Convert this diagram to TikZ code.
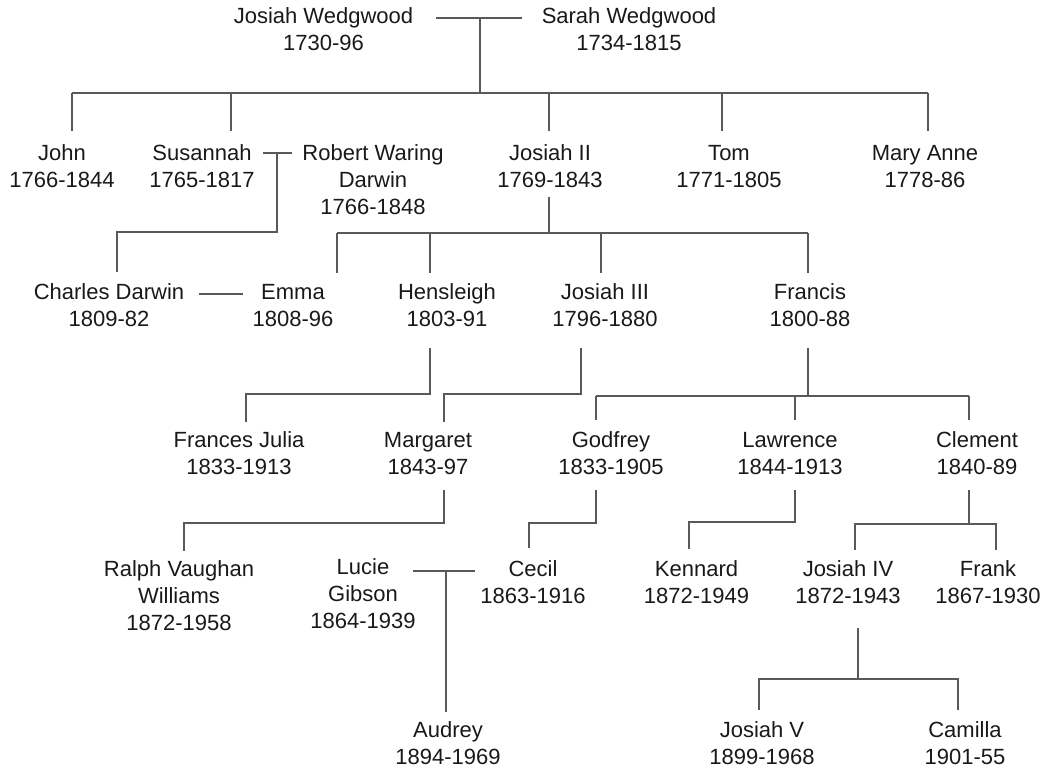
\documentclass[tikz,border=0pt]{standalone}
\usepackage{fontspec}
\setmainfont{Liberation Sans}
\begin{document}
\begin{tikzpicture}[x=1pt,y=-1pt,
  person/.style={inner sep=0pt, align=center, text=black!90, font=\fontsize{22}{27}\selectfont},
  ln/.style={draw=black!65, line width=1.3pt}]
\useasboundingbox (0,0) rectangle (1056,773);
% generation 0
\node[person] (jw) at (323.5,29.6) {Josiah Wedgwood\\1730-96};
\node[person] (sw) at (629,29.6) {Sarah Wedgwood\\1734-1815};
% generation 1
\node[person] (john) at (62,166.6) {John\\1766-1844};
\node[person] (sus) at (202,166.6) {Susannah\\1765-1817};
\node[person] (rwd) at (373,180.1) {Robert Waring\\Darwin\\1766-1848};
\node[person] (j2) at (550,166.6) {Josiah II\\1769-1843};
\node[person] (tom) at (729,166.6) {Tom\\1771-1805};
\node[person] (mary) at (925,166.6) {Mary Anne\\1778-86};
% generation 2
\node[person] (cd) at (109,305.6) {Charles Darwin\\1809-82};
\node[person] (emma) at (293,305.6) {Emma\\1808-96};
\node[person] (hens) at (447,305.6) {Hensleigh\\1803-91};
\node[person] (j3) at (605,305.6) {Josiah III\\1796-1880};
\node[person] (fran) at (810,305.6) {Francis\\1800-88};
% generation 3
\node[person] (fj) at (239,453.6) {Frances Julia\\1833-1913};
\node[person] (marg) at (428,453.6) {Margaret\\1843-97};
\node[person] (godf) at (611,453.6) {Godfrey\\1833-1905};
\node[person] (law) at (790,453.6) {Lawrence\\1844-1913};
\node[person] (clem) at (977,453.6) {Clement\\1840-89};
% generation 4
\node[person] (rvw) at (179,596.1) {Ralph Vaughan\\Williams\\1872-1958};
\node[person] (lucie) at (363,594.1) {Lucie\\Gibson\\1864-1939};
\node[person] (cecil) at (533,582.6) {Cecil\\1863-1916};
\node[person] (kenn) at (696.5,582.6) {Kennard\\1872-1949};
\node[person] (j4) at (848,582.6) {Josiah IV\\1872-1943};
\node[person] (frank) at (988,582.6) {Frank\\1867-1930};
% generation 5
\node[person] (aud) at (448,743.6) {Audrey\\1894-1969};
\node[person] (j5) at (762,743.6) {Josiah V\\1899-1968};
\node[person] (cam) at (965,743.6) {Camilla\\1901-55};

% ---- connectors ----
% Josiah Wedgwood + Sarah
\coordinate (m1a) at (436,18); \coordinate (m1b) at (522,18);
\coordinate (m1) at (480,18); \coordinate (b1) at (480,93);
\draw[ln] (m1a) -- (m1b);
\draw[ln] (m1) -- (b1);
\coordinate (b1l) at (72,93); \coordinate (b1r) at (928,93);
\draw[ln] (b1l) -- (b1r);
\foreach \x/\n in {72/john,231/sus,549/j2,722/tom,928/mary}
  \draw[ln] (\x,93) -- (\x,131);
% Susannah + Robert
\coordinate (m2a) at (263,153); \coordinate (m2b) at (292,153);
\draw[ln] (m2a) -- (m2b);
\coordinate (m2) at (277,153); \coordinate (m2c) at (277,232);
\coordinate (cdtop) at (117,272);
\draw[ln] (m2) -- (m2c) -- (117,232) -- (cdtop);
% Josiah II children
\coordinate (j2d) at (549,197); \coordinate (b2) at (549,233);
\draw[ln] (j2d) -- (b2);
\draw[ln] (337,233) -- (808,233);
\foreach \x in {337,430,601,808}
  \draw[ln] (\x,233) -- (\x,273);
% Charles Darwin + Emma
\coordinate (m3a) at (199,294); \coordinate (m3b) at (243,294);
\draw[ln] (m3a) -- (m3b);
% Hensleigh -> Frances Julia
\coordinate (hd) at (430,348); \coordinate (fjt) at (246,422);
\draw[ln] (hd) -- (430,394) -- (246,394) -- (fjt);
% Josiah III -> Margaret
\coordinate (j3d) at (581,348); \coordinate (mgt) at (444,422);
\draw[ln] (j3d) -- (581,394) -- (444,394) -- (mgt);
% Francis children
\coordinate (fd) at (808,348); \coordinate (b3) at (808,396);
\draw[ln] (fd) -- (b3);
\draw[ln] (596,396) -- (969,396);
\foreach \x in {596,795,969}
  \draw[ln] (\x,396) -- (\x,420);
% Margaret -> Ralph Vaughan Williams
\coordinate (mgd) at (444,490); \coordinate (rvwt) at (184,551);
\draw[ln] (mgd) -- (444,523) -- (184,523) -- (rvwt);
% Godfrey -> Cecil
\coordinate (gd) at (596,490); \coordinate (cct) at (529,548);
\draw[ln] (gd) -- (596,523) -- (529,523) -- (cct);
% Lawrence -> Kennard
\coordinate (ld) at (795,490); \coordinate (kt) at (689,549);
\draw[ln] (ld) -- (795,522) -- (689,522) -- (kt);
% Clement -> Josiah IV, Frank
\coordinate (cld) at (969,490); \coordinate (b4) at (969,524);
\draw[ln] (cld) -- (b4);
\draw[ln] (855,550) -- (855,524) -- (996,524) -- (996,550);
% Lucie + Cecil -> Audrey
\coordinate (m4a) at (413,571); \coordinate (m4b) at (475,571);
\draw[ln] (m4a) -- (m4b);
\coordinate (m4) at (446,571); \coordinate (audt) at (446,712);
\draw[ln] (m4) -- (audt);
% Josiah IV children
\coordinate (j4d) at (858,628); \coordinate (b5) at (858,679);
\draw[ln] (j4d) -- (b5);
\draw[ln] (759,710) -- (759,679) -- (958,679) -- (958,710);
\end{tikzpicture}
\end{document}
